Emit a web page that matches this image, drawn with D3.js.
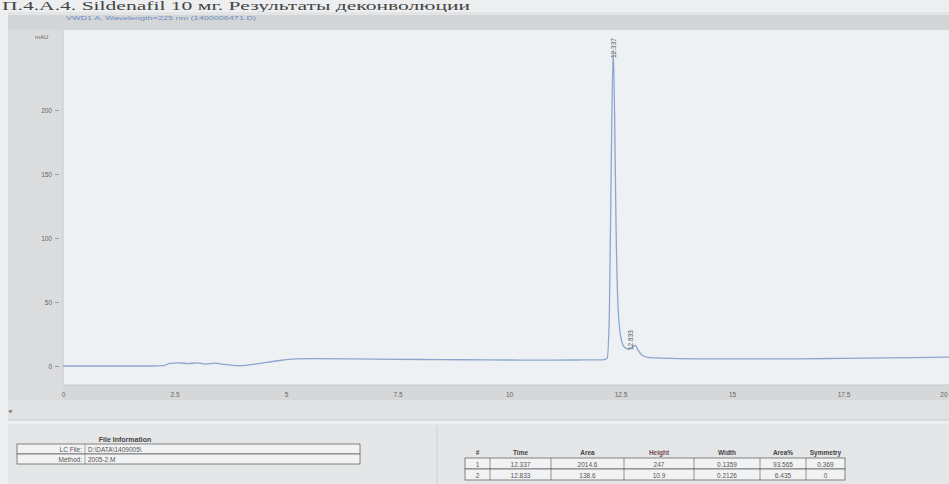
<!DOCTYPE html>
<html><head><meta charset="utf-8">
<script src="https://cdn.jsdelivr.net/npm/d3@7"></script>
<style>body{margin:0;background:#eceeef;overflow:hidden}svg{display:block}</style>
</head><body>
<script>
// ---- data ----
const times = [0,1,2,2.25,2.4,2.6,2.8,3.0,3.2,3.4,3.6,3.8,4.0,4.3,4.6,4.9,5.2,5.6,6.5,7.5,8.5,9.5,10.5,11.5,12.1,12.2,12.25,12.29,12.337,12.37,12.40,12.44,12.50,12.58,12.68,12.78,12.833,12.9,13.0,13.15,13.4,13.8,14.5,15.5,16.5,17.5,18.5,19.5,20];
const signal = [0,0,0,0.3,2,2.5,1.8,2.5,1.5,2.2,1.2,0.5,0.3,1.5,3,4.5,5.5,5.8,5.6,5.2,5,4.8,4.6,4.7,4.8,6,40,150,247,190,110,50,24,15,13,15,16,12,8,6.5,6.2,5.8,5.5,5.5,5.6,6,6.3,6.8,7];
const xTicks = [0,2.5,5,7.5,10,12.5,15,17.5,20];
const xTickLabels = ["0","2.5","5","7.5","10","12.5","15","17.5","20"];
const yTicks = [0,50,100,150,200];
const peakTimes = [12.337,12.833];
const peakLabels = ["12.337","12.833"];
const tableHead = ["#","Time","Area","Height","Width","Area%","Symmetry"];
const peakRows = [["1","12.337","2014.6","247","0.1359","93.565","0.369"],["2","12.833","138.6","10.9","0.2126","6.435","0"]];
const fileInfoLabels = ["LC File","Method"];
const fileInfoValues = ["D:\\DATA\\1409005\\","2005-2.M"];
const titleText = "П.4.А.4. Sildenafil 10 мг. Результаты деконволюции";
const signalName = "VWD1 A, Wavelength=225 nm (1400006471.D)";

const W=949,H=484;
const svg=d3.select("body").append("svg").attr("width",W).attr("height",H);
const font="Liberation Sans, Arial, sans-serif";

svg.append("rect").attr("width",W).attr("height",H).attr("fill","#eceeef");
svg.append("text").attr("x",2).attr("y",10).attr("font-family","Liberation Serif, serif")
  .attr("font-size",12).attr("fill","#444").attr("textLength",468).attr("lengthAdjust","spacingAndGlyphs").text(titleText);
// header bar
svg.append("rect").attr("x",8).attr("y",12).attr("width",W-8).attr("height",18).attr("fill","#d3d5d7");
svg.append("rect").attr("x",8).attr("y",12).attr("width",W-8).attr("height",3).attr("fill","#e2e4e5");
svg.append("text").attr("x",66).attr("y",20).attr("font-family",font).attr("font-size",5.5)
  .attr("fill","#6b8fc4").attr("textLength",190).attr("lengthAdjust","spacingAndGlyphs").text(signalName);
// axis panel
svg.append("rect").attr("x",8).attr("y",30).attr("width",55).attr("height",370).attr("fill","#dadcdd");
svg.append("rect").attr("x",63).attr("y",385).attr("width",W-63).attr("height",15).attr("fill","#d5d7d8");
// plot area
svg.append("rect").attr("x",63).attr("y",30).attr("width",W-63).attr("height",355).attr("fill","#eef1f4");
svg.append("line").attr("x1",63).attr("x2",63).attr("y1",30).attr("y2",385).attr("stroke","#c4c7ca");
svg.append("line").attr("x1",63).attr("x2",W).attr("y1",385).attr("y2",385).attr("stroke","#c8cbcd");
// scrollbar area
svg.append("rect").attr("x",8).attr("y",400).attr("width",W-8).attr("height",20).attr("fill","#e0e2e3");
svg.append("line").attr("x1",8).attr("x2",W).attr("y1",420).attr("y2",420).attr("stroke","#c9cbcd");
svg.append("text").attr("x",8).attr("y",413).attr("font-size",7).attr("fill","#777").attr("font-family",font).text("◂");
// bottom panels
svg.append("rect").attr("x",8).attr("y",424).attr("width",W-8).attr("height",60).attr("fill","#e4e6e7");
svg.append("line").attr("x1",437).attr("x2",437).attr("y1",426).attr("y2",484).attr("stroke","#cfd1d3");

const x=d3.scaleLinear().domain([0,20]).range([63,955]);
const y=d3.scaleLinear().domain([0,200]).range([366,110]);

// y axis
const yAxis=d3.axisLeft(y).tickValues(yTicks).tickSize(4).tickPadding(3);
const gy=svg.append("g").attr("transform","translate(59,0)").call(yAxis);
gy.select(".domain").remove();
gy.selectAll("line").attr("stroke","#9a9c9e");
gy.selectAll("text").attr("font-family",font).attr("font-size",6.5).attr("fill","#666");
svg.append("text").attr("x",35).attr("y",39).attr("font-family",font).attr("font-size",6).attr("fill","#666").text("mAU");

// x axis
const xAxis=d3.axisBottom(x).tickValues(xTicks).tickFormat((d,i)=>xTickLabels[i]).tickSize(0).tickPadding(5);
const gx=svg.append("g").attr("transform","translate(0,387)").call(xAxis);
gx.select(".domain").remove();
gx.selectAll("text").attr("font-family",font).attr("font-size",6.5).attr("fill","#666");
gx.selectAll(".tick").filter((d,i)=>i===xTicks.length-1).select("text").attr("text-anchor","end").attr("x",-8);

// trace
const pts=times.map((t,i)=>[t,signal[i]]);
svg.append("defs").append("clipPath").attr("id","c").append("rect").attr("x",63).attr("y",30).attr("width",W-63).attr("height",355);
svg.append("path").datum(pts).attr("clip-path","url(#c)")
  .attr("d",d3.line().x(d=>x(d[0])).y(d=>y(d[1])).curve(d3.curveMonotoneX))
  .attr("fill","none").attr("stroke","#8ca7ca").attr("stroke-width",1.3);

// peak labels
peakTimes.forEach((t,i)=>{
  const px=x(t)+ (i===0?3:-2), py=(i===0? 58 : 350);
  svg.append("text").attr("transform",`translate(${px},${py}) rotate(-90)`)
    .attr("font-family",font).attr("font-size",6.5).attr("fill","#555").text(peakLabels[i]);
});

// file information
svg.append("text").attr("x",125).attr("y",442).attr("text-anchor","middle").attr("font-family",font)
  .attr("font-size",7).attr("font-weight","bold").attr("fill","#444").text("File Information");
fileInfoLabels.forEach((l,i)=>{
  const ty=444+i*10;
  svg.append("rect").attr("x",17).attr("y",ty).attr("width",343).attr("height",10).attr("fill","#f1f2f3").attr("stroke","#555").attr("stroke-width",0.7);
  svg.append("line").attr("x1",85).attr("x2",85).attr("y1",ty).attr("y2",ty+10).attr("stroke","#777").attr("stroke-width",0.6);
  svg.append("text").attr("x",82).attr("y",ty+8).attr("text-anchor","end").attr("font-family",font).attr("font-size",6.5).attr("fill","#555").text(l+":");
  svg.append("text").attr("x",88).attr("y",ty+8).attr("font-family",font).attr("font-size",6.5).attr("fill","#555").text(fileInfoValues[i]);
});

// peak table
const colEdges=[465,490,551,624,694,760,806,845];
tableHead.forEach((h,j)=>{
  svg.append("text").attr("x",(colEdges[j]+colEdges[j+1])/2).attr("y",455).attr("text-anchor","middle")
    .attr("font-family",font).attr("font-size",6.5).attr("font-weight","bold").attr("fill",h==="Height"?"#7a4a55":"#444").text(h);
});
peakRows.forEach((r,i)=>{
  const ty=458+i*11;
  svg.append("rect").attr("x",colEdges[0]).attr("y",ty).attr("width",colEdges[7]-colEdges[0]).attr("height",11).attr("fill","#f1f2f3").attr("stroke","#555").attr("stroke-width",0.7);
  r.forEach((v,j)=>{
    if(j>0) svg.append("line").attr("x1",colEdges[j]).attr("x2",colEdges[j]).attr("y1",ty).attr("y2",ty+11).attr("stroke","#555").attr("stroke-width",0.6);
    svg.append("text").attr("x",(colEdges[j]+colEdges[j+1])/2).attr("y",ty+8.5).attr("text-anchor","middle")
      .attr("font-family",font).attr("font-size",6.5).attr("fill","#555").text(v);
  });
});
</script>
</body></html>
